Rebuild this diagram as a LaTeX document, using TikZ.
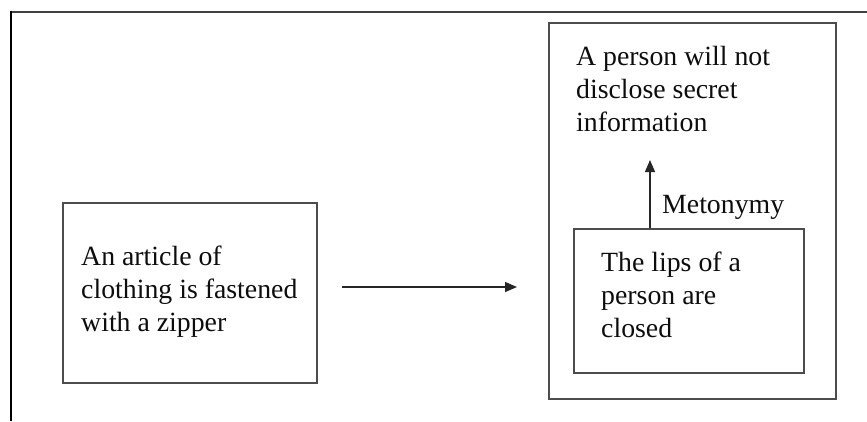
\documentclass[tikz,border=0pt]{standalone}
\usepackage{fontspec}
\setmainfont{Liberation Serif}
\usetikzlibrary{arrows.meta}
\begin{document}
\begin{tikzpicture}[x=1bp,y=-1bp,
  boxline/.style={draw=black!70,line width=1.4bp,rectangle,inner sep=0pt},
  txt/.style={inner sep=0pt,anchor=base west,align=left,text=black!95,
    font=\fontsize{27.8bp}{33bp}\selectfont},
  conn/.style={draw=black!85,line width=1.3bp,-{Triangle[length=12bp,width=10bp]}}]
\useasboundingbox (0,0) rectangle (867,421);
% outer frame lines
\draw[black!75,line width=1.2bp] (11,12) -- (867,12);
\draw[black,line width=2.2bp] (11,11.4) -- (11,421);
% boxes
\node[boxline,minimum width=254bp,minimum height=180bp] (leftbox) at (190,293) {};
\node[boxline,minimum width=287bp,minimum height=376bp] (bigbox) at (692.5,211) {};
\node[boxline,minimum width=230bp,minimum height=144bp] (innerbox) at (689,301) {};
% texts (base anchor = baseline of the last line)
\node[txt] (tleft) at (81,331) {An article of\\clothing is fastened\\with a zipper};
\node[txt] (ttop) at (576,131) {A person will not\\disclose secret\\information};
\node[txt] (tinner) at (601,337) {The lips of a\\person are\\closed};
\node[txt] (tmeto) at (662,213) {Metonymy};
% connectors
\coordinate (h1) at (342,287);
\coordinate (h2) at (517,287);
\coordinate (vtip) at (650,160);
\draw[conn] (h1) -- (h2);
\draw[conn] (innerbox.north -| vtip) -- (vtip);
\end{tikzpicture}
\end{document}
